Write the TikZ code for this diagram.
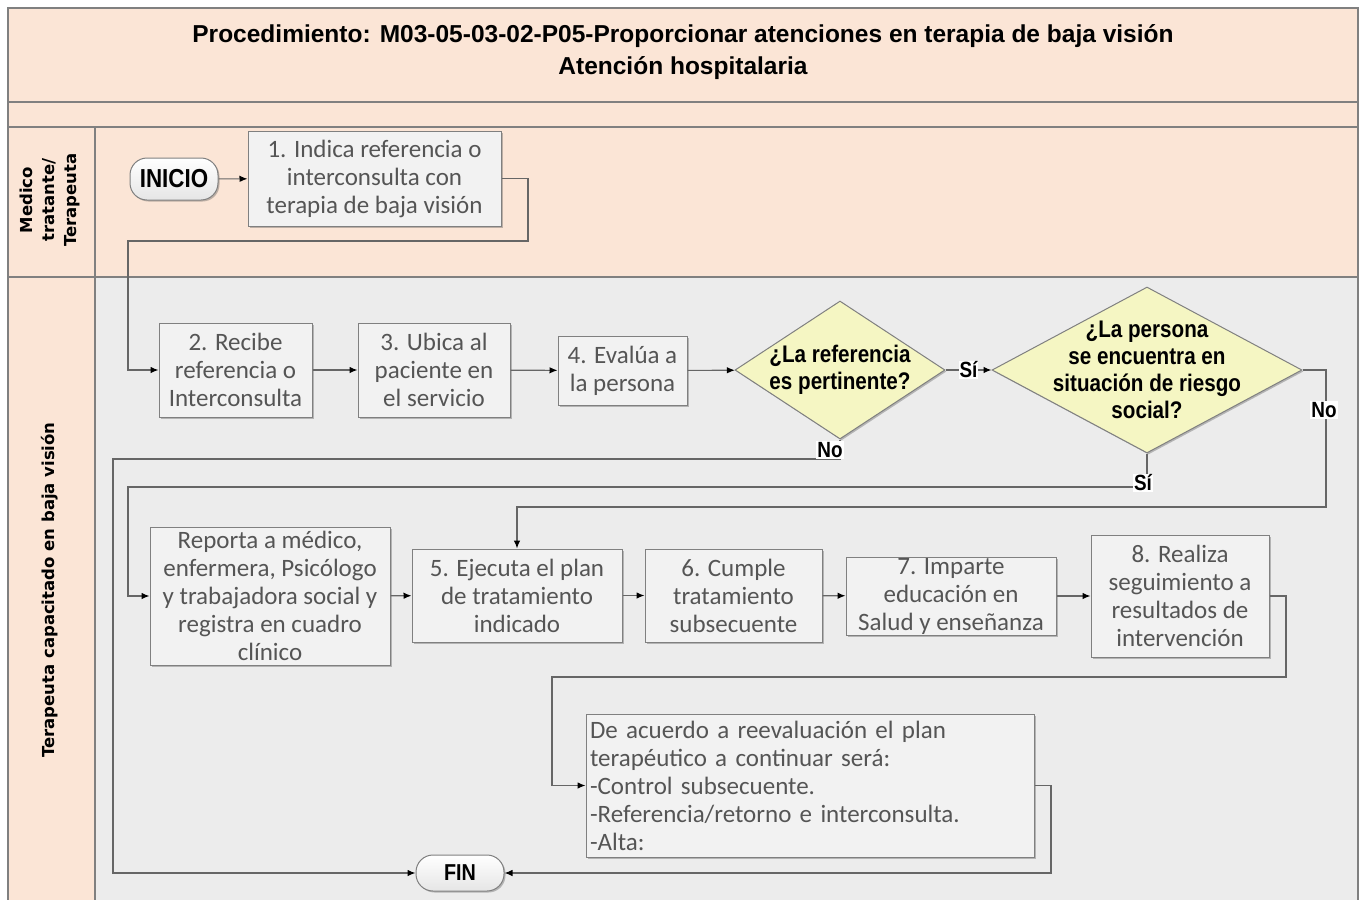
\documentclass[tikz,border=0pt]{standalone}
\usepackage{fontspec}
\setmainfont{Carlito}
\newfontfamily\hfont{Liberation Sans}
\newfontfamily\cfont{Liberation Sans}[FakeStretch=0.86]
\newfontfamily\lfont{DejaVu Sans}
\usetikzlibrary{shapes.geometric,arrows.meta,shadows}
\definecolor{peach}{HTML}{FBE5D6}
\definecolor{lanegray}{HTML}{ECECEC}
\definecolor{boxfill}{HTML}{F2F2F2}
\definecolor{boxline}{HTML}{808080}
\definecolor{txtgray}{HTML}{555555}
\definecolor{dfill}{HTML}{F5F6C3}
\definecolor{conn}{HTML}{666666}
\tikzset{
  laneline/.style={draw=boxline, line width=1.3pt},
  softshadow/.style={drop shadow={shadow xshift=1.5pt, shadow yshift=-1.5pt, opacity=0.35, fill=black!70}},
  stepbox/.style={draw=boxline, fill=boxfill, line width=1pt, text=txtgray, align=center, inner sep=0pt,
    font=\fontsize{25}{28}\selectfont, softshadow},
  decision/.style={diamond, draw=boxline, fill=dfill, line width=1pt, inner sep=0pt, softshadow},
  dectext/.style={font=\cfont\bfseries\fontsize{24}{27}\selectfont, align=center, text=black},
  terminal/.style={draw=boxline, line width=1pt, rounded corners=17pt, top color=white, bottom color=black!10,
    font=\cfont\bfseries\fontsize{26}{28}\selectfont, inner sep=0pt, softshadow},
  flow/.style={draw=conn, line width=1.1pt, -{Latex[length=8pt,width=6.5pt,black]}},
  answer/.style={font=\cfont\bfseries\fontsize{22}{24}\selectfont, fill=white, inner sep=1pt, text=black},
  lanelabel/.style={font=\lfont\bfseries\fontsize{16.5}{22}\selectfont, align=center, rotate=90},
}
\begin{document}
\begin{tikzpicture}[x=1pt,y=-1pt]
\useasboundingbox (0,0) rectangle (1361,900);
\fill[white] (0,0) rectangle (1361,900);
\fill[peach] (8,8) rectangle (1358,277);
\fill[peach] (8,277) rectangle (95,905);
\fill[lanegray] (95,277) rectangle (1358,905);
\draw[laneline] (8,905) -- (8,8) -- (1358,8) -- (1358,905);
\draw[laneline] (8,102) -- (1358,102);
\draw[laneline] (8,127) -- (1358,127);
\draw[laneline] (8,277) -- (1358,277);
\draw[laneline] (95,127) -- (95,905);

\node[font=\hfont\bfseries\fontsize{24.5}{32}\selectfont, align=center] (title) at (683,52)
  {Procedimiento: M03-05-03-02-P05-Proporcionar atenciones en terapia de baja visión\\Atención hospitalaria};
\node[lanelabel] (lane1) at (50,200) {Medico\\tratante/\\Terapeuta};
\node[lanelabel] (lane2) at (50,590) {Terapeuta capacitado en baja visión};

\node[terminal, minimum width=88pt, minimum height=42pt] (inicio) at (174,179) {INICIO};
\node[stepbox, minimum width=253pt, minimum height=95pt] (b1) at (374.5,178.5)
  {1. Indica referencia o\\interconsulta con\\terapia de baja visión};
\node[stepbox, minimum width=153pt, minimum height=94pt] (b2) at (235.5,370)
  {2. Recibe\\referencia o\\Interconsulta};
\node[stepbox, minimum width=152pt, minimum height=94pt] (b3) at (434,370)
  {3. Ubica al\\paciente en\\el servicio};
\node[stepbox, minimum width=129pt, minimum height=69pt] (b4) at (622.5,370.5)
  {4. Evalúa a\\la persona};
\node[decision, minimum width=210pt, minimum height=138pt, aspect=1.52,
  label={[dectext]center:¿La referencia\\es pertinente?}] (d1) at (840,370) {};
\node[decision, minimum width=310pt, minimum height=166pt, aspect=1.87,
  label={[dectext]center:¿La persona\\se encuentra en\\situación de riesgo\\social?}] (d2) at (1147,370) {};
\node[stepbox, minimum width=240pt, minimum height=138pt] (rep) at (270,596)
  {Reporta a médico,\\enfermera, Psicólogo\\y trabajadora social y\\registra en cuadro\\clínico};
\node[stepbox, minimum width=210pt, minimum height=93pt] (b5) at (517,595.5)
  {5. Ejecuta el plan\\de tratamiento\\indicado};
\node[stepbox, minimum width=177pt, minimum height=93pt] (b6) at (733.5,595.5)
  {6. Cumple\\tratamiento\\subsecuente};
\node[stepbox, minimum width=210pt, minimum height=78pt] (b7) at (951,596)
  {7. Imparte\\educación en\\Salud y enseñanza};
\node[stepbox, minimum width=178pt, minimum height=122pt] (b8) at (1180,596)
  {8. Realiza\\seguimiento a\\resultados de\\intervención};
\node[stepbox, minimum width=448pt, minimum height=143pt, text width=440pt, align=left] (plan) at (810,785.5)
  {De acuerdo a reevaluación el plan\\terapéutico a continuar será:\\-Control subsecuente.\\-Referencia/retorno e interconsulta.\\-Alta:};
\node[terminal, minimum width=88pt, minimum height=36pt, font=\cfont\bfseries\fontsize{23}{25}\selectfont] (fin) at (460,873) {FIN};

\draw[flow] (inicio) -- (b1);
\draw[flow] (b1.east) -- (528,178.5) |- (128,241) |- (b2.west);
\draw[flow] (b2) -- (b3);
\draw[flow] (b3) -- (b4);
\draw[flow] (b4) -- (d1);
\draw[flow] (d1.east) -- (d2.west) node[answer, midway] (si1) {Sí};
\draw[flow] (d2.east) -| (1326,507) -| (b5.north);
\node[answer] (no2) at (1324,410) {No};
\draw[flow] (d2.south) |- (128,487) |- (rep.west);
\node[answer] (si2) at (1143,483) {Sí};
\draw[flow] (d1.south) |- (113,459) |- (fin.west);
\node[answer] (no1) at (830,450) {No};
\draw[flow] (rep) -- (b5);
\draw[flow] (b5) -- (b6);
\draw[flow] (b6) -- (b7);
\draw[flow] (b7) -- (b8);
\draw[flow] (b8.east) -- (1286,596) |- (552,677) |- (plan.west);
\draw[flow] (plan.east) -- (1051,785.5) |- (fin.east);
\end{tikzpicture}
\end{document}
